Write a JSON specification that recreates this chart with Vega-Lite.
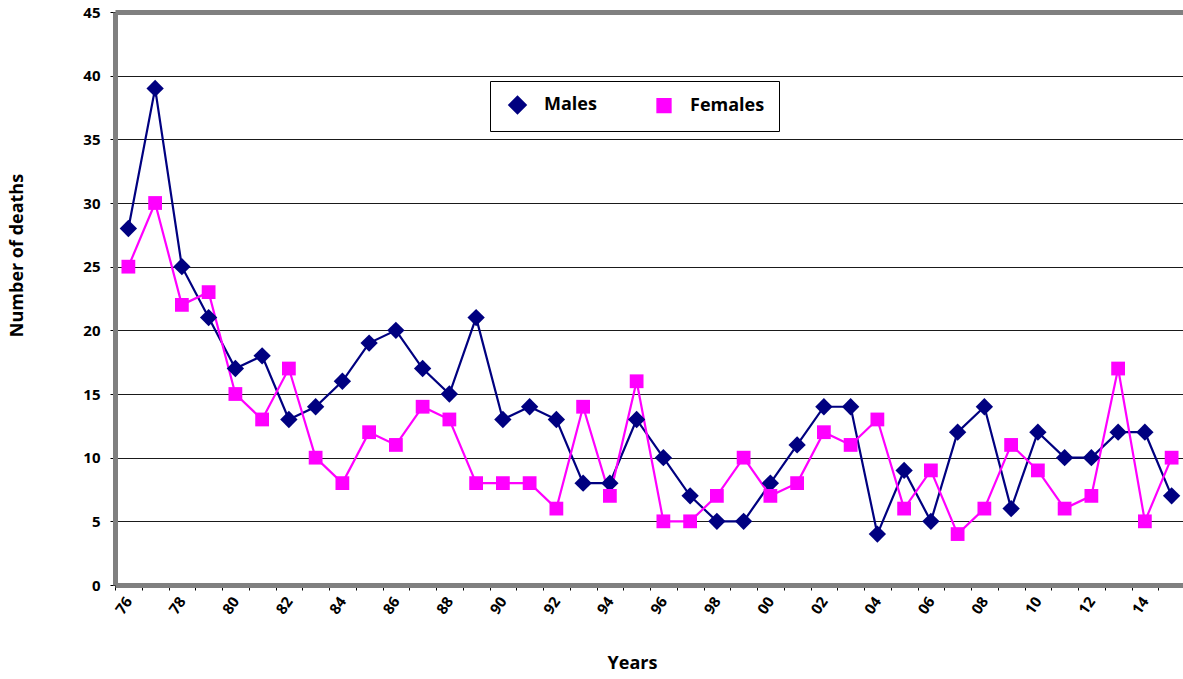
{
  "$schema": "https://vega.github.io/schema/vega-lite/v6.json",
  "autosize": {"type": "none"},
  "padding": {"left": 115, "top": 12, "right": 0, "bottom": 94},
  "width": 1070,
  "height": 573,
  "background": "white",
  "config": {
    "view": {"stroke": "#808080", "strokeWidth": 1},
    "font": "Open Sans",
    "legend": {
      "orient": "none",
      "legendX": 375,
      "legendY": 69,
      "direction": "horizontal",
      "strokeColor": "#000000",
      "fillColor": "#FFFFFF",
      "padding": 14,
      "columnPadding": 57,
      "symbolSize": 169,
      "symbolOpacity": 1,
      "labelOffset": 17,
      "labelFont": "Open Sans",
      "labelFontSize": 18,
      "labelFontWeight": "bold",
      "labelColor": "#000000",
      "titleOrient": "left",
      "titleFont": "Open Sans",
      "titleFontSize": 18,
      "titlePadding": 4
    }
  },
  "data": {
    "values": [
      {"year": 1976, "series": "Males", "deaths": 28}, {"year": 1977, "series": "Males", "deaths": 39},
      {"year": 1978, "series": "Males", "deaths": 25}, {"year": 1979, "series": "Males", "deaths": 21},
      {"year": 1980, "series": "Males", "deaths": 17}, {"year": 1981, "series": "Males", "deaths": 18},
      {"year": 1982, "series": "Males", "deaths": 13}, {"year": 1983, "series": "Males", "deaths": 14},
      {"year": 1984, "series": "Males", "deaths": 16}, {"year": 1985, "series": "Males", "deaths": 19},
      {"year": 1986, "series": "Males", "deaths": 20}, {"year": 1987, "series": "Males", "deaths": 17},
      {"year": 1988, "series": "Males", "deaths": 15}, {"year": 1989, "series": "Males", "deaths": 21},
      {"year": 1990, "series": "Males", "deaths": 13}, {"year": 1991, "series": "Males", "deaths": 14},
      {"year": 1992, "series": "Males", "deaths": 13}, {"year": 1993, "series": "Males", "deaths": 8},
      {"year": 1994, "series": "Males", "deaths": 8}, {"year": 1995, "series": "Males", "deaths": 13},
      {"year": 1996, "series": "Males", "deaths": 10}, {"year": 1997, "series": "Males", "deaths": 7},
      {"year": 1998, "series": "Males", "deaths": 5}, {"year": 1999, "series": "Males", "deaths": 5},
      {"year": 2000, "series": "Males", "deaths": 8}, {"year": 2001, "series": "Males", "deaths": 11},
      {"year": 2002, "series": "Males", "deaths": 14}, {"year": 2003, "series": "Males", "deaths": 14},
      {"year": 2004, "series": "Males", "deaths": 4}, {"year": 2005, "series": "Males", "deaths": 9},
      {"year": 2006, "series": "Males", "deaths": 5}, {"year": 2007, "series": "Males", "deaths": 12},
      {"year": 2008, "series": "Males", "deaths": 14}, {"year": 2009, "series": "Males", "deaths": 6},
      {"year": 2010, "series": "Males", "deaths": 12}, {"year": 2011, "series": "Males", "deaths": 10},
      {"year": 2012, "series": "Males", "deaths": 10}, {"year": 2013, "series": "Males", "deaths": 12},
      {"year": 2014, "series": "Males", "deaths": 12}, {"year": 2015, "series": "Males", "deaths": 7},
      {"year": 1976, "series": "Females", "deaths": 25}, {"year": 1977, "series": "Females", "deaths": 30},
      {"year": 1978, "series": "Females", "deaths": 22}, {"year": 1979, "series": "Females", "deaths": 23},
      {"year": 1980, "series": "Females", "deaths": 15}, {"year": 1981, "series": "Females", "deaths": 13},
      {"year": 1982, "series": "Females", "deaths": 17}, {"year": 1983, "series": "Females", "deaths": 10},
      {"year": 1984, "series": "Females", "deaths": 8}, {"year": 1985, "series": "Females", "deaths": 12},
      {"year": 1986, "series": "Females", "deaths": 11}, {"year": 1987, "series": "Females", "deaths": 14},
      {"year": 1988, "series": "Females", "deaths": 13}, {"year": 1989, "series": "Females", "deaths": 8},
      {"year": 1990, "series": "Females", "deaths": 8}, {"year": 1991, "series": "Females", "deaths": 8},
      {"year": 1992, "series": "Females", "deaths": 6}, {"year": 1993, "series": "Females", "deaths": 14},
      {"year": 1994, "series": "Females", "deaths": 7}, {"year": 1995, "series": "Females", "deaths": 16},
      {"year": 1996, "series": "Females", "deaths": 5}, {"year": 1997, "series": "Females", "deaths": 5},
      {"year": 1998, "series": "Females", "deaths": 7}, {"year": 1999, "series": "Females", "deaths": 10},
      {"year": 2000, "series": "Females", "deaths": 7}, {"year": 2001, "series": "Females", "deaths": 8},
      {"year": 2002, "series": "Females", "deaths": 12}, {"year": 2003, "series": "Females", "deaths": 11},
      {"year": 2004, "series": "Females", "deaths": 13}, {"year": 2005, "series": "Females", "deaths": 6},
      {"year": 2006, "series": "Females", "deaths": 9}, {"year": 2007, "series": "Females", "deaths": 4},
      {"year": 2008, "series": "Females", "deaths": 6}, {"year": 2009, "series": "Females", "deaths": 11},
      {"year": 2010, "series": "Females", "deaths": 9}, {"year": 2011, "series": "Females", "deaths": 6},
      {"year": 2012, "series": "Females", "deaths": 7}, {"year": 2013, "series": "Females", "deaths": 17},
      {"year": 2014, "series": "Females", "deaths": 5}, {"year": 2015, "series": "Females", "deaths": 10}
    ]
  },
  "encoding": {
    "x": {
      "field": "year",
      "type": "ordinal",
      "bandPosition": 0.5,
      "scale": {"type": "band", "paddingInner": 0, "paddingOuter": 0},
      "axis": {
        "title": "Years",
        "titleFont": "Open Sans",
        "titleFontSize": 18,
        "titleFontWeight": "bold",
        "titleColor": "#000000",
        "titleX": 517,
        "titleY": 78,
        "titleBaseline": "middle",
        "titleAlign": "center",
        "labelExpr": "datum.value % 2 == 0 ? slice(toString(datum.value), 2) : ''",
        "labelAngle": -55,
        "labelAlign": "right",
        "labelBaseline": "middle",
        "labelPadding": 8,
        "labelFont": "Open Sans",
        "labelFontSize": 15,
        "labelFontWeight": "bold",
        "labelColor": "#000000",
        "labelOverlap": false,
        "labelBound": false,
        "tickBand": "extent",
        "ticks": true,
        "tickColor": "#000000",
        "tickWidth": 1,
        "tickSize": 5,
        "domainColor": "#808080",
        "domainWidth": 5,
        "grid": false
      }
    },
    "y": {
      "field": "deaths",
      "type": "quantitative",
      "scale": {"domain": [0, 45], "nice": false, "zero": true},
      "axis": {
        "title": "Number of deaths",
        "titleFont": "Open Sans",
        "titleFontSize": 18,
        "titleFontWeight": "bold",
        "titleColor": "#000000",
        "titleAngle": -90,
        "titleX": -98,
        "titleY": 243,
        "titleAlign": "center",
        "titleBaseline": "middle",
        "values": [0, 5, 10, 15, 20, 25, 30, 35, 40, 45],
        "labelFont": "Open Sans",
        "labelFontSize": 15,
        "labelFontWeight": "bold",
        "labelColor": "#000000",
        "labelPadding": 10,
        "tickColor": "#000000",
        "tickWidth": 1,
        "tickSize": 5,
        "domainColor": "#808080",
        "domainWidth": 5,
        "grid": true,
        "gridColor": {"condition": {"test": "datum.value == 45", "value": "#808080"}, "value": "#1a1a1a"},
        "gridWidth": {"condition": {"test": "datum.value == 45", "value": 5}, "value": 1},
        "gridOpacity": 1
      }
    },
    "color": {
      "field": "series",
      "type": "nominal",
      "scale": {"domain": ["Males", "Females"], "range": ["#000080", "#FF00FF"]},
      "legend": {
        "title": "\u00a0\u00a0\u00a0\u00a0\u00a0\u00a0\u00a0\u00a0",
        "labelExpr": "datum.label == 'Females' ? datum.label + '\u00a0\u00a0\u00a0\u00a0' : datum.label"
      }
    }
  },
  "layer": [
    {
      "mark": {"type": "line", "strokeWidth": 2.2}
    },
    {
      "mark": {"type": "point", "filled": true, "opacity": 1},
      "encoding": {
        "shape": {
          "field": "series",
          "type": "nominal",
          "scale": {"domain": ["Males", "Females"], "range": ["diamond", "square"]},
          "legend": {
            "title": "\u00a0\u00a0\u00a0\u00a0\u00a0\u00a0\u00a0\u00a0",
            "labelExpr": "datum.label == 'Females' ? datum.label + '\u00a0\u00a0\u00a0\u00a0' : datum.label"
          }
        },
        "size": {
          "field": "series",
          "type": "nominal",
          "scale": {"domain": ["Males", "Females"], "range": [300, 190]},
          "legend": null
        }
      }
    }
  ]
}
